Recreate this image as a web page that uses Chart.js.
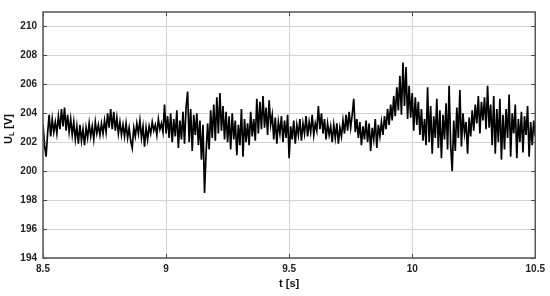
<!DOCTYPE html>
<html>
<head>
<meta charset="utf-8">
<script src="https://cdn.jsdelivr.net/npm/chart.js@4.4.1/dist/chart.umd.min.js"></script>
<style>
  html, body { margin: 0; padding: 0; background: #fff; }
  #wrap { width: 550px; height: 296px; }
</style>
</head>
<body>
<div id="wrap"><canvas id="uChart" width="550" height="296"></canvas></div>
<script>
// sampling of the recorded voltage
const t0 = 8.5;
const dt = 0.00625;

// U_L [V], one value per sample
const uL = [
  203.2, 201.8, 201.0, 202.6, 203.9, 202.4, 203.6, 202.7, 203.4, 202.6,
  203.8, 202.9, 204.3, 203.1, 204.4, 202.8, 203.9, 202.7, 203.6, 202.5,
  203.4, 202.2, 203.1, 201.9, 203.2, 202.1, 202.9, 201.8, 203.0, 202.3,
  203.3, 202.4, 203.1, 202.2, 203.4, 202.6, 203.2, 202.5, 203.3, 202.6,
  203.5, 202.7, 204.0, 203.0, 204.3, 202.9, 204.1, 202.8, 203.7, 202.6,
  203.4, 202.5, 203.2, 202.4, 203.3, 202.3, 203.0, 202.1, 201.6, 203.0,
  202.4, 203.3, 202.6, 203.5, 202.3, 203.1, 201.7, 203.0, 202.2, 203.1,
  202.6, 203.4, 202.8, 203.2, 202.5, 203.6, 202.9, 203.3, 202.7, 204.6,
  202.6, 203.8, 202.3, 204.0, 202.0, 203.6, 202.4, 204.2, 201.6, 203.5,
  202.2, 204.1, 201.9, 204.4, 205.5, 202.0, 204.3, 201.4, 203.9, 202.5,
  204.0, 201.8, 203.5, 200.8, 203.2, 198.5, 201.2, 203.3, 201.5, 204.2,
  202.3, 204.6, 202.1, 205.1, 202.6, 205.4, 202.8, 204.5, 202.2, 204.1,
  202.0, 203.8, 201.5, 204.0, 202.2, 203.5, 201.1, 203.2, 201.8, 204.3,
  201.0, 203.6, 202.0, 203.3, 201.8, 204.1, 202.4, 203.6, 202.1, 205.0,
  202.6, 204.8, 202.9, 205.2, 203.0, 204.4, 202.5, 204.9, 203.2, 203.9,
  202.2, 203.7, 201.9, 203.4, 202.6, 203.8, 202.0, 203.5, 202.3, 203.9,
  200.9, 203.1, 202.2, 203.5, 201.9, 203.2, 202.5, 203.6, 202.1, 203.3,
  202.6, 203.8, 202.4, 203.4, 202.7, 203.9, 202.5, 203.3, 202.8, 204.5,
  202.9, 204.0, 202.6, 203.6, 202.2, 203.3, 202.5, 203.1, 202.0, 203.2,
  202.3, 203.3, 201.9, 203.0, 202.4, 203.5, 202.6, 203.9, 202.8, 204.1,
  203.0, 203.9, 205.0, 202.7, 203.6, 202.3, 203.4, 201.8, 203.1, 202.2,
  203.5, 202.0, 203.3, 201.4, 203.0, 202.2, 203.6, 201.6, 203.2, 202.4,
  203.4, 202.5, 203.8, 202.9, 204.3, 203.2, 204.6, 203.5, 205.2, 203.8,
  205.8, 204.2, 206.6, 203.9, 207.5, 204.5, 207.2, 203.6, 205.9, 203.7,
  205.4, 202.8, 205.1, 203.2, 204.8, 202.5, 204.3, 202.1, 203.6, 201.8,
  205.8, 202.0, 204.5, 201.2, 203.8, 202.3, 205.0, 201.6, 204.2, 200.9,
  203.9, 202.2, 204.7, 201.5, 205.9, 201.8, 200.0, 203.5, 201.4, 204.4,
  202.3, 205.6, 201.7, 204.0, 202.6, 203.4, 201.2, 203.7, 202.4, 204.2,
  202.8, 204.6, 203.3, 205.2, 202.6, 204.8, 203.5, 205.1, 202.9, 205.9,
  203.0, 204.6, 201.8, 205.2, 201.2, 204.3, 202.0, 205.0, 200.8, 203.9,
  201.5, 204.3, 202.3, 205.3, 201.0, 204.0, 202.6, 204.6, 200.9, 203.6,
  202.0, 204.1, 201.3, 203.8, 202.5, 204.5, 201.0, 203.4, 201.8, 203.5,
  202.4
];

const xTicks = [8.5, 9, 9.5, 10, 10.5];
const yTicks = [194, 196, 198, 200, 202, 204, 206, 208, 210];

const tickFont = { family: "'Liberation Sans', Arial, sans-serif", size: 10, weight: 'bold' };

// frame on all four sides + little inward ticks, like matlab axes
const framePlugin = {
  id: 'frame',
  afterDraw(chart) {
    const { ctx, chartArea: a, scales } = chart;
    ctx.save();
    ctx.strokeStyle = '#444';
    ctx.lineWidth = 1;
    yTicks.forEach(v => {
      const y = Math.round(scales.y.getPixelForValue(v)) + 0.5;
      ctx.beginPath();
      ctx.moveTo(a.left, y); ctx.lineTo(a.left + 4, y);
      ctx.moveTo(a.right, y); ctx.lineTo(a.right - 4, y);
      ctx.stroke();
    });
    xTicks.forEach(v => {
      const x = Math.round(scales.x.getPixelForValue(v)) + 0.5;
      ctx.beginPath();
      ctx.moveTo(x, a.bottom); ctx.lineTo(x, a.bottom - 4);
      ctx.moveTo(x, a.top); ctx.lineTo(x, a.top + 4);
      ctx.stroke();
    });
    ctx.strokeStyle = '#555';
    ctx.lineWidth = 1.5;
    ctx.strokeRect(a.left, a.top, a.right - a.left, a.bottom - a.top);
    ctx.restore();
  }
};

// y title with a subscript L
const yTitlePlugin = {
  id: 'yTitle',
  afterDraw(chart) {
    const ctx = chart.ctx;
    const big = "bold 11px 'Liberation Sans', Arial, sans-serif";
    const small = "bold 7px 'Liberation Sans', Arial, sans-serif";
    ctx.save();
    ctx.fillStyle = '#111';
    ctx.font = big;
    const wU = ctx.measureText('U').width;
    const wV = ctx.measureText(' [V]').width;
    ctx.font = small;
    const wL = ctx.measureText('L').width;
    const total = wU + wL + wV;
    ctx.translate(12, 129);
    ctx.rotate(-Math.PI / 2);
    ctx.textBaseline = 'alphabetic';
    let x = -total / 2;
    ctx.font = big;
    ctx.fillText('U', x, 0); x += wU;
    ctx.font = small;
    ctx.fillText('L', x, 2); x += wL;
    ctx.font = big;
    ctx.fillText(' [V]', x, 0);
    ctx.restore();
  }
};

new Chart(document.getElementById('uChart'), {
  type: 'line',
  data: {
    datasets: [{
      data: uL.map((v, i) => ({ x: t0 + i * dt, y: v })),
      borderColor: '#000',
      borderWidth: 1.7,
      pointRadius: 0,
      tension: 0,
      fill: false
    }]
  },
  options: {
    responsive: false,
    animation: false,
    events: [],
    layout: { padding: { top: 9, right: 14, left: 0, bottom: 5 } },
    plugins: { legend: { display: false }, tooltip: { enabled: false } },
    scales: {
      x: {
        type: 'linear',
        min: 8.5,
        max: 10.5,
        afterBuildTicks: s => { s.ticks = xTicks.map(v => ({ value: v })); },
        afterFit: s => { s.height = 33; },
        grid: { color: '#d4d4d4', lineWidth: 1, drawTicks: false },
        border: { display: false },
        ticks: { color: '#222', font: tickFont, padding: 5, maxRotation: 0, callback: v => String(v) },
        title: { display: true, text: 't [s]', color: '#111', font: { family: "'Liberation Sans', Arial, sans-serif", size: 11, weight: 'bold' }, padding: { top: 0, bottom: 0 } }
      },
      y: {
        min: 194,
        max: 211,
        afterBuildTicks: s => { s.ticks = yTicks.map(v => ({ value: v })); },
        afterFit: s => { s.width = 43; },
        grid: { color: '#d4d4d4', lineWidth: 1, drawTicks: false },
        border: { display: false },
        ticks: { color: '#222', font: tickFont, padding: 6, callback: v => String(v) }
      }
    }
  },
  plugins: [framePlugin, yTitlePlugin]
});
</script>
</body>
</html>
